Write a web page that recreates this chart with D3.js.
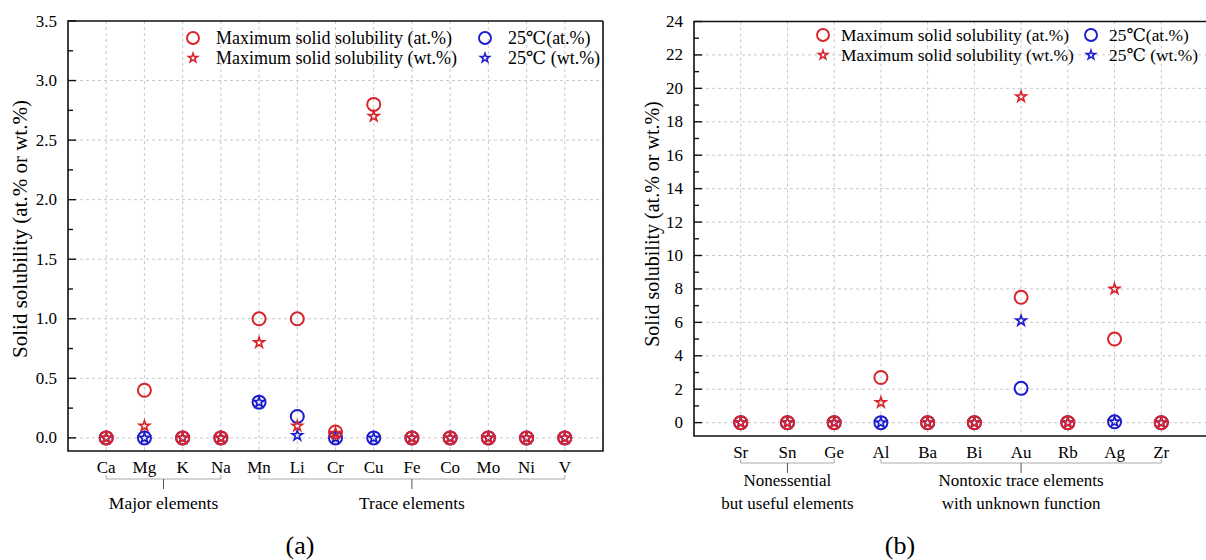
<!DOCTYPE html>
<html>
<head>
<meta charset="utf-8">
<script src="https://cdn.jsdelivr.net/npm/d3@7"></script>
<style>
  body { margin: 0; background: #fff; }
</style>
</head>
<body>
<div id="chart"></div>
<script>
// panel (a)
const catsA = ["Ca", "Mg", "K", "Na", "Mn", "Li", "Cr", "Cu", "Fe", "Co", "Mo", "Ni", "V"];
const maxAtA = [0, 0.4, 0, 0, 1.0, 1.0, 0.05, 2.8, 0, 0, 0, 0, 0];
const maxWtA = [0, 0.1, 0, 0, 0.8, 0.1, 0.04, 2.7, 0, 0, 0, 0, 0];
const rtAtA = [0, 0, 0, 0, 0.3, 0.18, 0, 0, 0, 0, 0, 0, 0];
const rtWtA = [0, 0, 0, 0, 0.3, 0.02, 0, 0, 0, 0, 0, 0, 0];
const yTicksA = [0, 0.5, 1.0, 1.5, 2.0, 2.5, 3.0, 3.5];
const groupsA = [
  { from: 0, to: 3, label: ["Major elements"] },
  { from: 4, to: 12, label: ["Trace elements"] }
];

// panel (b)
const catsB = ["Sr", "Sn", "Ge", "Al", "Ba", "Bi", "Au", "Rb", "Ag", "Zr"];
const maxAtB = [0, 0, 0, 2.7, 0, 0, 7.5, 0, 5.0, 0];
const maxWtB = [0, 0, 0, 1.2, 0, 0, 19.5, 0, 8.0, 0];
const rtAtB = [0, 0, 0, 0, 0, 0, 2.05, 0, 0.05, 0];
const rtWtB = [0, 0, 0, 0, 0, 0, 6.1, 0, 0.05, 0];
const yTicksB = [0, 2, 4, 6, 8, 10, 12, 14, 16, 18, 20, 22, 24];
const groupsB = [
  { from: 0, to: 2, label: ["Nonessential", "but useful elements"] },
  { from: 3, to: 9, label: ["Nontoxic trace elements", "with unknown function"] }
];

const RED = "#d8232a", BLUE = "#1c1ccc";
const FONT = "'Liberation Serif', Tinos, 'Times New Roman', 'DejaVu Serif', serif";

const svg = d3.select("#chart").append("svg")
  .attr("width", 1206).attr("height", 560)
  .attr("font-family", FONT)
  .style("font-family", FONT);

function drawPanel(p) {
  const g = svg.append("g");
  const x = d3.scaleLinear().domain([0, p.cats.length + 1]).range([p.left, p.right]);
  const y = d3.scaleLinear().domain(p.yDomain).range([p.bottom, p.top]);
  const xr = Math.min(p.right, 1206);

  // grid
  g.append("g").selectAll("line").data(p.cats).enter().append("line")
    .attr("x1", (d, i) => x(i + 1)).attr("x2", (d, i) => x(i + 1))
    .attr("y1", p.top).attr("y2", p.bottom)
    .attr("stroke", "#c8c8c8").attr("stroke-dasharray", "3,3").attr("stroke-width", 1);
  g.append("g").selectAll("line").data(p.yTicks.filter(t => t < p.yDomain[1])).enter().append("line")
    .attr("x1", p.left).attr("x2", xr)
    .attr("y1", d => y(d)).attr("y2", d => y(d))
    .attr("stroke", "#c8c8c8").attr("stroke-dasharray", "3,3").attr("stroke-width", 1);

  // frame
  g.append("path")
    .attr("d", `M${xr},${p.top}H${p.left}V${p.bottom}H${xr}` + (p.right <= 1206 ? `V${p.top}` : ""))
    .attr("fill", "none").attr("stroke", "#111").attr("stroke-width", 1.6);

  // y axis ticks (inward) + labels
  const step = p.yTicks[1] - p.yTicks[0];
  const minor = d3.range(p.yTicks[0] + step / 2, p.yDomain[1], step);
  g.append("g").selectAll("line").data(p.yTicks).enter().append("line")
    .attr("x1", p.left).attr("x2", p.left + 8)
    .attr("y1", d => y(d)).attr("y2", d => y(d))
    .attr("stroke", "#111").attr("stroke-width", 1.4);
  g.append("g").selectAll("line").data(minor).enter().append("line")
    .attr("x1", p.left).attr("x2", p.left + 5)
    .attr("y1", d => y(d)).attr("y2", d => y(d))
    .attr("stroke", "#111").attr("stroke-width", 1.4);
  g.append("g").selectAll("text").data(p.yTicks).enter().append("text")
    .attr("x", p.left - 11).attr("y", d => y(d))
    .attr("text-anchor", "end").attr("dominant-baseline", "central")
    .style("font-size", p.fs + "px")
    .text(d => p.fmt(d));

  g.append("text")
    .attr("transform", `translate(${p.titleX},${p.titleY}) rotate(-90)`)
    .attr("text-anchor", "middle").attr("dominant-baseline", "central")
    .style("font-size", p.titleFs + "px")
    .text("Solid solubility (at.% or wt.%)");

  // x labels
  g.append("g").selectAll("text").data(p.cats).enter().append("text")
    .attr("x", (d, i) => x(i + 1)).attr("y", p.xLabelY)
    .attr("text-anchor", "middle").attr("dominant-baseline", "central")
    .style("font-size", p.fs + "px")
    .text(d => d);

  // group brackets
  p.groups.forEach(gr => {
    const x0 = x(gr.from + 1), x1 = x(gr.to + 1), xm = (x0 + x1) / 2;
    g.append("path")
      .attr("d", `M${x0},${p.brY - 4}V${p.brY}H${x1}V${p.brY - 4}`)
      .attr("fill", "none").attr("stroke", "#aaa").attr("stroke-width", 1);
    g.append("line").attr("x1", xm).attr("x2", xm)
      .attr("y1", p.brY).attr("y2", p.brY + 10)
      .attr("stroke", "#555").attr("stroke-width", 1);
    gr.label.forEach((t, k) => {
      g.append("text").attr("x", xm).attr("y", p.grY + k * 23)
        .attr("text-anchor", "middle").attr("dominant-baseline", "central")
        .style("font-size", p.grFs + "px").text(t);
    });
  });

  // markers: 25 °C first, maximum on top
  const star = d3.symbol(d3.symbolStar, p.starSize);
  const series = [
    { vals: p.rtAt, c: BLUE, shape: "circle" },
    { vals: p.rtWt, c: BLUE, shape: "star" },
    { vals: p.maxAt, c: RED, shape: "circle" },
    { vals: p.maxWt, c: RED, shape: "star" }
  ];
  series.forEach(s => {
    const sel = g.append("g").selectAll("path").data(s.vals).enter();
    if (s.shape === "circle") {
      sel.append("circle")
        .attr("cx", (d, i) => x(i + 1)).attr("cy", d => y(d)).attr("r", 6.5)
        .attr("fill", "none").attr("stroke", s.c).attr("stroke-width", 2);
    } else {
      sel.append("path").attr("d", star)
        .attr("transform", (d, i) => `translate(${x(i + 1)},${y(d)})`)
        .attr("fill", "none").attr("stroke", s.c).attr("stroke-width", 1.6);
    }
  });

  // legend
  const L = p.legend;
  const items = [
    { x: L.x1, y: L.y1, c: RED, shape: "circle", t: "Maximum solid solubility (at.%)" },
    { x: L.x1, y: L.y2, c: RED, shape: "star", t: "Maximum solid solubility (wt.%)" },
    { x: L.x2, y: L.y1, c: BLUE, shape: "circle", t: "25℃(at.%)" },
    { x: L.x2, y: L.y2, c: BLUE, shape: "star", t: "25℃ (wt.%)" }
  ];
  items.forEach(it => {
    if (it.shape === "circle") {
      g.append("circle").attr("cx", it.x).attr("cy", it.y).attr("r", 6)
        .attr("fill", "none").attr("stroke", it.c).attr("stroke-width", 1.9);
    } else {
      g.append("path").attr("d", d3.symbol(d3.symbolStar, 26)())
        .attr("transform", `translate(${it.x},${it.y})`)
        .attr("fill", "none").attr("stroke", it.c).attr("stroke-width", 1.5);
    }
    g.append("text").attr("x", it.x + L.gap).attr("y", it.y)
      .attr("dominant-baseline", "central")
      .style("font-size", L.fs + "px").text(it.t);
  });

  svg.append("text").attr("x", p.capX).attr("y", 545)
    .attr("text-anchor", "middle").attr("dominant-baseline", "central")
    .style("font-size", "26px").text(p.caption);
}

drawPanel({
  cats: catsA, maxAt: maxAtA, maxWt: maxWtA, rtAt: rtAtA, rtWt: rtWtA,
  yTicks: yTicksA, groups: groupsA, yDomain: [-0.11, 3.5], fmt: d3.format(".1f"),
  left: 68, right: 603, top: 21, bottom: 451,
  fs: 17, titleFs: 21, titleX: 20, titleY: 229, xLabelY: 467,
  brY: 479, grY: 503, grFs: 17.5, starSize: 34,
  legend: { x1: 193, x2: 485, y1: 38, y2: 58, gap: 23, fs: 18 },
  capX: 300, caption: "(a)"
});

drawPanel({
  cats: catsB, maxAt: maxAtB, maxWt: maxWtB, rtAt: rtAtB, rtWt: rtWtB,
  yTicks: yTicksB, groups: groupsB, yDomain: [-0.8, 24], fmt: d3.format("d"),
  left: 694, right: 1208, top: 21.5, bottom: 436,
  fs: 17, titleFs: 20, titleX: 652, titleY: 224, xLabelY: 452,
  brY: 463, grY: 480, grFs: 17, starSize: 34,
  legend: { x1: 823, x2: 1091, y1: 35, y2: 55, gap: 18, fs: 17.4 },
  capX: 900, caption: "(b)"
});
</script>
</body>
</html>
